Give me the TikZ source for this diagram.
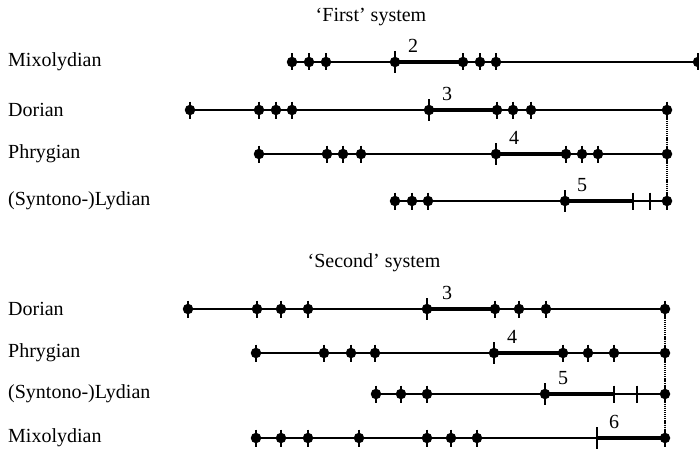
\documentclass[tikz,border=0pt]{standalone}
\usepackage{fontspec}
\setmainfont{Liberation Serif}
\usetikzlibrary{calc}
\begin{document}
\begin{tikzpicture}[x=1pt,y=-1pt,
  pt/.style={circle, fill=black, inner sep=0pt, minimum size=10.5pt},
  thinl/.style={line width=1.5pt},
  thickl/.style={line width=4.5pt},
  tickl/.style={line width=1.5pt},
  dotl/.style={line width=1.7pt, dash pattern=on 1.2pt off 0.9pt},
  txt/.style={font=\fontsize{20}{22}\selectfont, inner sep=0pt},
  lbl/.style={txt, anchor=west},
  num/.style={txt}
]
\useasboundingbox (0,0) rectangle (699,452);

% titles
\node[txt] (t1) at (371,17) {‘First’ system};
\node[txt] (t2) at (374,263) {‘Second’ system};

% row labels
\node[lbl] (lA) at (8,62) {Mixolydian};
\node[lbl] (lB) at (8,110) {Dorian};
\node[lbl] (lC) at (8,154) {Phrygian};
\node[lbl] (lD) at (8,201) {(Syntono-)Lydian};
\node[lbl] (lE) at (8,309) {Dorian};
\node[lbl] (lF) at (8,353) {Phrygian};
\node[lbl] (lG) at (8,394) {(Syntono-)Lydian};
\node[lbl] (lH) at (8,438) {Mixolydian};

% ---------- First system ----------
% Mixolydian
\foreach \x [count=\i] in {292,309,326,395,463,480,496,698}
  {\node[pt] (A\i) at (\x,62) {};}
\draw[thinl] (A1.center) -- (A8.center);
\draw[thickl] (A4.center) -- (A5.center);
\foreach \i in {1,2,3,5,6,7,8} {\draw[tickl] (A\i.center) ++(0,-8.5) -- ++(0,17);}
\draw[tickl] (A4.center) ++(0,-11) -- ++(0,22);
\node[num] (nA) at ($(A4.center)+(18,-16)$) {2};

% Dorian
\foreach \x [count=\i] in {190,259,276,292,429,497,513,531,667}
  {\node[pt] (B\i) at (\x,110) {};}
\draw[thinl] (B1.center) -- (B9.center);
\draw[thickl] (B5.center) -- (B6.center);
\foreach \i in {1,2,3,4,6,7,8,9} {\draw[tickl] (B\i.center) ++(0,-8.5) -- ++(0,17);}
\draw[tickl] (B5.center) ++(0,-11) -- ++(0,22);
\node[num] (nB) at ($(B5.center)+(18,-16)$) {3};

% Phrygian
\foreach \x [count=\i] in {259,327,343,361,496,566,582,598,667}
  {\node[pt] (C\i) at (\x,154) {};}
\draw[thinl] (C1.center) -- (C9.center);
\draw[thickl] (C5.center) -- (C6.center);
\foreach \i in {1,2,3,4,6,7,8,9} {\draw[tickl] (C\i.center) ++(0,-8.5) -- ++(0,17);}
\draw[tickl] (C5.center) ++(0,-11) -- ++(0,22);
\node[num] (nC) at ($(C5.center)+(18,-16)$) {4};

% (Syntono-)Lydian
\foreach \x [count=\i] in {395,412,428,565}
  {\node[pt] (D\i) at (\x,201) {};}
\coordinate (D5) at (633,201);
\coordinate (D6) at (650,201);
\node[pt] (D7) at (667,201) {};
\draw[thinl] (D1.center) -- (D7.center);
\draw[thickl] (D4.center) -- (D5);
\foreach \i in {1,2,3,7} {\draw[tickl] (D\i.center) ++(0,-8.5) -- ++(0,17);}
\foreach \i in {5,6} {\draw[tickl] (D\i) ++(0,-8.5) -- ++(0,17);}
\draw[tickl] (D4.center) ++(0,-11) -- ++(0,22);
\node[num] (nD) at ($(D4.center)+(17,-16)$) {5};

\draw[dotl] (B9.center) -- (D7.center);

% ---------- Second system ----------
% Dorian
\foreach \x [count=\i] in {188,257,281,308,427,495,519,546,665}
  {\node[pt] (E\i) at (\x,309) {};}
\draw[thinl] (E1.center) -- (E9.center);
\draw[thickl] (E5.center) -- (E6.center);
\foreach \i in {1,2,3,4,6,7,8,9} {\draw[tickl] (E\i.center) ++(0,-8.5) -- ++(0,17);}
\draw[tickl] (E5.center) ++(0,-11) -- ++(0,22);
\node[num] (nE) at ($(E5.center)+(20,-16)$) {3};

% Phrygian
\foreach \x [count=\i] in {256,324,351,375,494,563,588,614,665}
  {\node[pt] (F\i) at (\x,353) {};}
\draw[thinl] (F1.center) -- (F9.center);
\draw[thickl] (F5.center) -- (F6.center);
\foreach \i in {1,2,3,4,6,7,8,9} {\draw[tickl] (F\i.center) ++(0,-8.5) -- ++(0,17);}
\draw[tickl] (F5.center) ++(0,-11) -- ++(0,22);
\node[num] (nF) at ($(F5.center)+(18,-16)$) {4};

% (Syntono-)Lydian
\foreach \x [count=\i] in {376,401,427,545}
  {\node[pt] (G\i) at (\x,394) {};}
\coordinate (G5) at (614,394);
\coordinate (G6) at (637,394);
\node[pt] (G7) at (665,394) {};
\draw[thinl] (G1.center) -- (G7.center);
\draw[thickl] (G4.center) -- (G5);
\foreach \i in {1,2,3,7} {\draw[tickl] (G\i.center) ++(0,-8.5) -- ++(0,17);}
\foreach \i in {5,6} {\draw[tickl] (G\i) ++(0,-8.5) -- ++(0,17);}
\draw[tickl] (G4.center) ++(0,-11) -- ++(0,22);
\node[num] (nG) at ($(G4.center)+(18,-16)$) {5};

% Mixolydian
\foreach \x [count=\i] in {256,281,308,359,427,451,477}
  {\node[pt] (H\i) at (\x,438) {};}
\coordinate (H8) at (597,438);
\node[pt] (H9) at (665,438) {};
\draw[thinl] (H1.center) -- (H9.center);
\draw[thickl] (H8) -- (H9.center);
\foreach \i in {1,2,3,4,5,6,7,9} {\draw[tickl] (H\i.center) ++(0,-8.5) -- ++(0,17);}
\draw[tickl] (H8) ++(0,-11) -- ++(0,22);
\node[num] (nH) at ($(H8)+(17,-16)$) {6};

\draw[dotl] (E9.center) -- (H9.center);
\end{tikzpicture}
\end{document}
